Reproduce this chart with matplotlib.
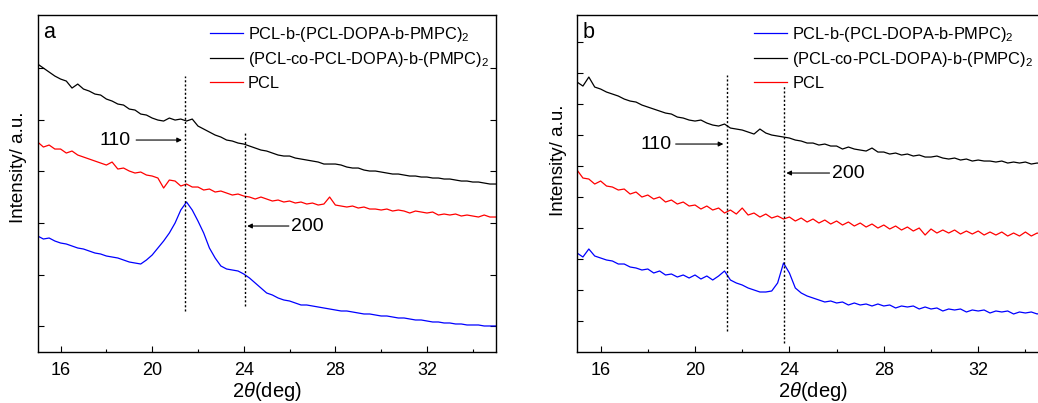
import numpy as np
import matplotlib.pyplot as plt

plt.rcParams['font.family'] = ['Liberation Sans', 'DejaVu Sans']
plt.rcParams['mathtext.fontset'] = 'custom'
plt.rcParams['mathtext.rm'] = 'Liberation Sans'
plt.rcParams['mathtext.it'] = 'Liberation Sans:italic'

# 2theta sampling, 15..35 deg every 0.25
tt = np.arange(15, 35.001, 0.25)

# intensities (a.u.), panel a
a_black = [288, 284, 280, 276, 273, 271, 264, 268, 263, 261, 258, 257,
           253, 251, 248, 247, 243, 242, 238, 237, 234, 232, 231, 234,
           232, 233, 231, 233, 226, 223, 220, 217, 215, 212, 211, 209,
           208, 206, 204, 202, 201, 199, 197, 196, 196, 194, 193, 192,
           191, 190, 188, 188, 188, 187, 185, 184, 184, 182, 181, 181,
           180, 179, 178, 178, 177, 176, 176, 175, 175, 174, 174, 173,
           173, 172, 171, 171, 170, 170, 169, 168, 168]
a_red = [210, 205, 207, 203, 203, 199, 201, 197, 195, 193, 191, 189,
         187, 190, 183, 184, 181, 179, 180, 177, 176, 174, 164, 172,
         171, 166, 168, 165, 165, 162, 163, 160, 161, 159, 157, 158,
         156, 155, 153, 155, 153, 151, 152, 150, 151, 149, 150, 148,
         149, 147, 148, 155, 147, 146, 145, 146, 144, 145, 143, 143,
         142, 143, 141, 142, 141, 139, 141, 140, 139, 140, 137, 138,
         137, 138, 136, 137, 136, 135, 137, 135, 135]
a_blue = [116, 113, 114, 111, 109, 108, 106, 104, 103, 101, 99, 98,
          96, 95, 94, 92, 90, 89, 88, 92, 97, 104, 111, 119,
          129, 142, 150, 142, 131, 119, 104, 94, 86, 83, 82, 81,
          78, 74, 69, 64, 59, 57, 54, 52, 51, 49, 47, 47,
          46, 45, 44, 43, 42, 41, 41, 40, 39, 38, 38, 37,
          36, 36, 35, 34, 34, 33, 32, 32, 31, 30, 30, 29,
          29, 28, 28, 27, 27, 27, 26, 26, 26]

# panel b
b_black = [270, 266, 275, 265, 263, 260, 258, 256, 253, 251, 250, 247,
           245, 243, 241, 239, 238, 235, 234, 232, 231, 232, 229, 227,
           226, 228, 224, 223, 222, 220, 218, 223, 219, 217, 216, 215,
           214, 212, 211, 209, 209, 207, 208, 206, 206, 203, 205, 203,
           202, 201, 204, 200, 200, 198, 199, 197, 198, 196, 197, 195,
           195, 196, 194, 193, 194, 192, 193, 191, 192, 191, 191, 190,
           191, 189, 190, 189, 190, 188, 189, 188, 188]
b_red = [182, 174, 173, 168, 171, 166, 165, 162, 163, 158, 160, 155,
         157, 153, 155, 150, 152, 148, 150, 146, 147, 143, 146, 142,
         144, 139, 142, 138, 144, 137, 139, 135, 138, 134, 136, 133,
         135, 131, 134, 130, 133, 129, 132, 128, 131, 127, 130, 126,
         129, 125, 128, 124, 127, 123, 126, 122, 125, 121, 124, 117,
         123, 119, 122, 119, 122, 118, 121, 118, 121, 117, 120, 117,
         120, 116, 119, 116, 120, 116, 119, 117, 118]
b_blue = [99, 95, 103, 96, 94, 92, 91, 88, 88, 85, 84, 82,
          83, 79, 81, 77, 78, 75, 77, 74, 77, 73, 76, 72,
          76, 81, 72, 69, 67, 64, 62, 60, 60, 61, 69, 89,
          79, 64, 59, 56, 54, 52, 50, 51, 49, 50, 47, 49,
          47, 48, 46, 48, 46, 47, 44, 46, 45, 46, 43, 45,
          43, 44, 41, 43, 42, 43, 40, 42, 41, 42, 39, 41,
          40, 41, 38, 40, 39, 40, 38, 40, 39]

names = ['PCL-b-(PCL-DOPA-b-PMPC)$_2$', '(PCL-co-PCL-DOPA)-b-(PMPC)$_2$', 'PCL']

# peak positions: (x, ymin, ymax) of dotted guides
a_guides = [(21.42, 41, 276), (24.04, 46, 219)]
b_guides = [(21.36, 21, 277), (23.77, 9, 266)]

fig = plt.figure(figsize=(10.38, 4.03), dpi=100)
axa = fig.add_axes([0.0363, 0.1266, 0.4412, 0.836])
axb = fig.add_axes([0.5559, 0.1266, 0.4547, 0.836])


def panel(ax, blue, black, red, guides, letter, lab110, lab200, yt, ylab_x, ylab_y):
    ax.plot(tt, blue, color='#0000ff', lw=0.9, label=names[0])
    ax.plot(tt, black, color='black', lw=0.9, label=names[1])
    ax.plot(tt, red, color='#ff0000', lw=0.9, label=names[2])
    for x, y0, y1 in guides:
        ax.plot([x, x], [y0, y1], color='black', lw=1, ls=(0, (1.5, 1.5)))
    ax.set_xlim(15, 35)
    ax.set_ylim(0, 337)
    ax.set_xticks([16, 20, 24, 28, 32])
    ax.set_xticks([18, 22, 26, 30, 34], minor=True)
    ax.set_yticks(yt)
    ax.set_yticklabels([])
    ax.tick_params(direction='in', which='both', top=False, right=True,
                   labelsize=13, width=0.8, pad=7)
    ax.tick_params(which='major', length=4)
    ax.tick_params(which='minor', length=2.5)
    for s in ax.spines.values():
        s.set_linewidth(1)
    ax.set_xlabel(r'2$\mathit{\theta}$(deg)', fontsize=14.5)
    ax.xaxis.set_label_coords(0.5, -0.083)
    ax.set_ylabel('Intensity/ a.u.', fontsize=13.5)
    ax.yaxis.set_label_coords(ylab_x, ylab_y)
    ax.text(15.25, 320, letter, fontsize=15.5, va='center')
    # 110 / 200 arrows
    t1, a1, h1, y1 = lab110
    ax.annotate('', xy=(h1, y1), xytext=(a1, y1),
                arrowprops=dict(arrowstyle='-|>', lw=0.8, color='black', mutation_scale=7,
                                shrinkA=0, shrinkB=0))
    ax.text(t1, y1, '110', fontsize=14, ha='right', va='center')
    t2, a2, h2, y2 = lab200
    ax.annotate('', xy=(h2, y2), xytext=(a2, y2),
                arrowprops=dict(arrowstyle='-|>', lw=0.8, color='black', mutation_scale=7,
                                shrinkA=0, shrinkB=0))
    ax.text(t2, y2, '200', fontsize=14, ha='left', va='center')
    ax.legend(loc='upper left', bbox_to_anchor=(0.376, 0.972), frameon=False, fontsize=11.8,
              borderpad=0, borderaxespad=0, handlelength=2.0, handletextpad=0.3,
              labelspacing=0.4)


panel(axa, a_blue, a_black, a_red, a_guides, 'a',
      (19.05, 19.3, 21.3, 212), (26.05, 25.97, 24.15, 126),
      [25.7, 77.4, 129.1, 180.8, 232.5, 284.2], -0.023, 0.547)
panel(axb, b_blue, b_black, b_red, b_guides, 'b',
      (19.0, 19.18, 21.2, 208), (25.8, 25.7, 23.87, 179),
      [30.7, 61.7, 92.7, 123.7, 154.7, 185.7, 216.7, 247.7, 278.7, 309.7], -0.021, 0.57)

plt.savefig('out.png', dpi=100)
